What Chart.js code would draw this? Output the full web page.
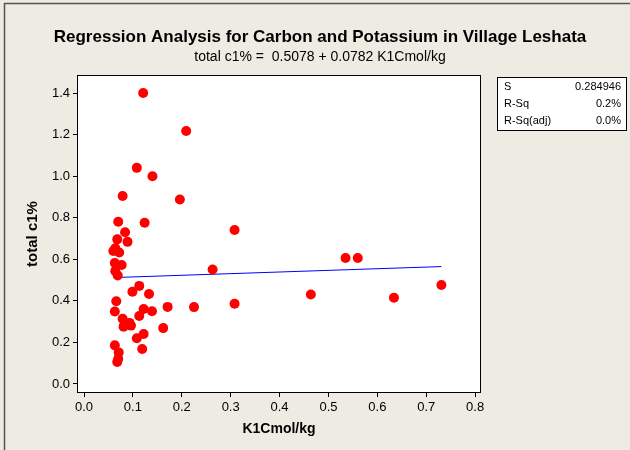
<!DOCTYPE html>
<html>
<head>
<meta charset="utf-8">
<script src="https://cdn.jsdelivr.net/npm/chart.js@4.4.1/dist/chart.umd.min.js"></script>
<style>
  html, body { margin: 0; padding: 0; background: #eeebe2; }
  #chart { display: block; }
</style>
</head>
<body>
<canvas id="chart" width="630" height="450"></canvas>
<script>
// Values
const k1Cmol = [0.121, 0.209, 0.108, 0.140, 0.079, 0.196, 0.070, 0.124, 0.084, 0.068,
                0.089, 0.060, 0.064, 0.072, 0.063, 0.077, 0.064, 0.069, 0.263, 0.099,
                0.113, 0.133, 0.066, 0.063, 0.122, 0.113, 0.139, 0.171, 0.225, 0.079,
                0.081, 0.093, 0.096, 0.162, 0.108, 0.122, 0.119, 0.063, 0.071, 0.070,
                0.068, 0.308, 0.535, 0.560, 0.731, 0.464, 0.634, 0.308];
const totalC1 = [1.400, 1.217, 1.040, 1.000, 0.905, 0.888, 0.781, 0.776, 0.730, 0.696,
                 0.684, 0.640, 0.653, 0.633, 0.582, 0.573, 0.543, 0.522, 0.551, 0.444,
                 0.472, 0.433, 0.398, 0.349, 0.361, 0.327, 0.350, 0.371, 0.370, 0.314,
                 0.276, 0.294, 0.281, 0.269, 0.220, 0.241, 0.168, 0.186, 0.152, 0.121,
                 0.106, 0.741, 0.606, 0.606, 0.476, 0.431, 0.415, 0.386];

// fitted line end points
const fitX = [0.060, 0.731];
const fitY = [0.512, 0.565];

const xTicks = [0.0, 0.1, 0.2, 0.3, 0.4, 0.5, 0.6, 0.7, 0.8];
const yTicks = [0.0, 0.2, 0.4, 0.6, 0.8, 1.0, 1.2, 1.4];

const titleText = 'Regression Analysis for Carbon and Potassium in Village Leshata';
const subtitleText = 'total c1% =  0.5078 + 0.0782 K1Cmol/kg';
const statLabels = ['S', 'R-Sq', 'R-Sq(adj)'];
const statValues = ['0.284946', '0.2%', '0.0%'];

const FONT = '"Liberation Sans", Arial, sans-serif';

// background, plot area, frame, titles, stats box
const decorations = {
    id: 'decorations',
    beforeDraw(chart) {
        const { ctx, chartArea: a } = chart;
        ctx.save();
        ctx.fillStyle = '#eeebe2';
        ctx.fillRect(0, 0, chart.width, chart.height);
        ctx.fillStyle = '#ffffff';
        ctx.fillRect(a.left, a.top, a.right - a.left, a.bottom - a.top);
        ctx.restore();
    },
    afterDraw(chart) {
        const { ctx, chartArea: a } = chart;
        ctx.save();

        // outer frame (only top and left visible)
        ctx.strokeStyle = '#555555';
        ctx.lineWidth = 1.5;
        ctx.beginPath();
        ctx.moveTo(4.5, chart.height);
        ctx.lineTo(4.5, 3.5);
        ctx.lineTo(chart.width, 3.5);
        ctx.stroke();

        // plot border
        ctx.strokeStyle = '#000000';
        ctx.lineWidth = 1;
        ctx.strokeRect(a.left - 0.5, a.top - 0.5, a.right - a.left + 1, a.bottom - a.top + 1);

        // titles
        ctx.fillStyle = '#000000';
        ctx.textAlign = 'center';
        ctx.textBaseline = 'middle';
        ctx.font = 'bold 17px ' + FONT;
        ctx.fillText(titleText, 320, 37);
        ctx.font = '14px ' + FONT;
        ctx.fillText(subtitleText, 320, 57);

        // stats box
        const bx = 497.5, by = 77.5, bw = 129, bh = 53;
        ctx.fillStyle = '#ffffff';
        ctx.fillRect(bx, by, bw, bh);
        ctx.strokeStyle = '#000000';
        ctx.strokeRect(bx, by, bw, bh);
        ctx.fillStyle = '#000000';
        ctx.font = '11px ' + FONT;
        statLabels.forEach((label, i) => {
            const y = 87 + i * 17;
            ctx.textAlign = 'left';
            ctx.fillText(label, 504, y);
            ctx.textAlign = 'right';
            ctx.fillText(statValues[i], 621, y);
        });
        ctx.restore();
    }
};

const points = k1Cmol.map((x, i) => ({ x, y: totalC1[i] }));
const fitLine = fitX.map((x, i) => ({ x, y: fitY[i] }));

new Chart(document.getElementById('chart'), {
    type: 'scatter',
    data: {
        datasets: [
            {
                label: 'Regression',
                data: fitLine,
                showLine: true,
                borderColor: '#0000ff',
                borderWidth: 1,
                pointRadius: 0,
                order: 2
            },
            {
                label: 'total c1%',
                data: points,
                backgroundColor: '#ff0000',
                borderColor: '#ff0000',
                borderWidth: 0,
                pointRadius: 5,
                order: 1
            }
        ]
    },
    options: {
        responsive: false,
        animation: false,
        devicePixelRatio: 1,
        layout: {
            padding: { left: 20, top: 76, right: 150, bottom: 12 }
        },
        plugins: {
            legend: { display: false },
            tooltip: { enabled: false }
        },
        scales: {
            x: {
                type: 'linear',
                min: -0.0123,
                max: 0.81,
                afterBuildTicks: (scale) => { scale.ticks = xTicks.map(v => ({ value: v })); },
                afterFit: (scale) => { scale.height = 46; },
                ticks: {
                    color: '#000000',
                    font: { family: FONT, size: 13 },
                    padding: 3,
                    maxRotation: 0,
                    callback: (v) => Number(v).toFixed(1)
                },
                grid: { drawOnChartArea: false, drawTicks: true, tickLength: 5, color: '#000000' },
                border: { display: false },
                title: {
                    display: true,
                    text: 'K1Cmol/kg',
                    color: '#000000',
                    font: { family: FONT, size: 14, weight: 'bold' },
                    padding: { top: 0, bottom: 0 }
                }
            },
            y: {
                type: 'linear',
                min: -0.0385,
                max: 1.482,
                afterBuildTicks: (scale) => { scale.ticks = yTicks.map(v => ({ value: v })); },
                afterFit: (scale) => { scale.width = 58; },
                ticks: {
                    color: '#000000',
                    font: { family: FONT, size: 13 },
                    padding: 3,
                    callback: (v) => Number(v).toFixed(1)
                },
                grid: { drawOnChartArea: false, drawTicks: true, tickLength: 5, color: '#000000' },
                border: { display: false },
                title: {
                    display: true,
                    text: 'total c1%',
                    color: '#000000',
                    font: { family: FONT, size: 15, weight: 'bold' },
                    padding: { top: 4, bottom: 0 }
                }
            }
        }
    },
    plugins: [decorations]
});
</script>
</body>
</html>
